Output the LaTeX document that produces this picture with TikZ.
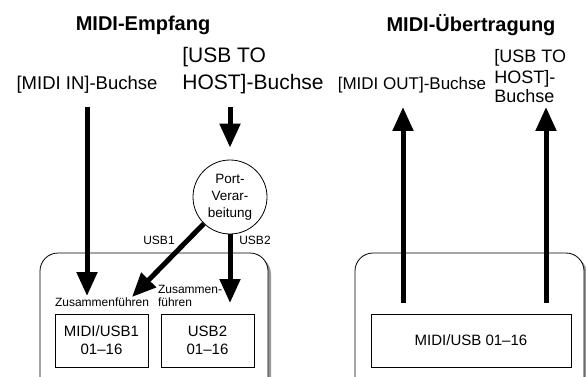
\documentclass[tikz,border=0pt]{standalone}
\usepackage{fontspec}
\setmainfont{Liberation Sans}
\usetikzlibrary{arrows.meta, positioning, shadows}
\tikzset{
  every picture/.style={x=1pt, y=-1pt, line width=0.8pt},
  ttl/.style={font=\bfseries\fontsize{20}{24}\selectfont, inner sep=0pt},
  lbl/.style={font=\fontsize{17}{20}\selectfont, inner sep=0pt, align=left},
  tiny/.style={font=\fontsize{12}{13}\selectfont, inner sep=0pt, align=left},
  chan/.style={draw, fill=white, minimum width=93pt, minimum height=53pt, align=center, font=\fontsize{15}{18}\selectfont},
  frame/.style={draw, fill=white, rounded corners=18pt, drop shadow={shadow xshift=3pt, shadow yshift=-3pt, fill=black!40, opacity=1}},
  arrow/.style={line width=5pt, -{Triangle[length=24pt, width=20pt]}},
}
\begin{document}
\begin{tikzpicture}
  \useasboundingbox (0,0) rectangle (586,377);
  % frames (cut at the bottom)
  \path[frame] (40,253) rectangle (268,395);
  \path[frame] (355,253) rectangle (584,395);
  % titles and jacks
  \node[ttl] (rxt) at (143,25) {MIDI-Empfang};
  \node[ttl] (txt) at (471,25) {MIDI-Übertragung};
  \node[lbl, anchor=base, font=\fontsize{18.5}{20}\selectfont] (midiin) at (87,90) {[MIDI IN]-Buchse};
  \node[lbl, anchor=base west, font=\fontsize{21}{27}\selectfont] (usbin) at (182,90) {[USB TO\\HOST]-Buchse};
  \node[lbl, anchor=base] (midiout) at (412,90) {[MIDI OUT]-Buchse};
  \node[lbl, anchor=base west, font=\fontsize{18}{20}\selectfont] (usbout) at (494,103) {[USB TO\\HOST]-\\Buchse};
  % receive side
  \node[draw, circle, minimum size=74pt, inner sep=0pt, align=center, font=\fontsize{13.5}{17}\selectfont] (port) at (230,197) {Port-\\Verar-\\beitung};
  \node[chan] (mu1) at (101.5,340.5) {MIDI/USB1\\01--16};
  \node[chan] (u2) at (207.5,340.5) {USB2\\01--16};
  \node[tiny, anchor=south west] (zf1) at ([yshift=7pt]mu1.north west) {Zusammenführen};
  \node[tiny, anchor=south west] (zf2) at ([xshift=-3pt, yshift=7pt]u2.north west) {Zusammen-\\führen};
  \node[tiny] (usb1) at (159,240) {USB1};
  \node[tiny] (usb2) at (255,240) {USB2};
  \coordinate (t1) at (132,297);
  \coordinate (t2) at (230,303);
  \coordinate (u1s) at (230,107);
  \draw[arrow] ([yshift=-17pt]midiin.base) -- (87,296);
  \draw[arrow] (u1s) -- ([yshift=12pt]port.north);
  \draw[arrow] (port) -- (t1);
  \draw[arrow] (port) -- (t2);
  % transmit side
  \node[chan, minimum width=200pt] (mout) at (471,340.5) {MIDI/USB 01--16};
  \coordinate (o1) at (403,303);
  \coordinate (o1t) at (403,107);
  \coordinate (o2) at (546,303);
  \coordinate (o2t) at (546,107);
  \draw[arrow] (o1) -- (o1t);
  \draw[arrow] (o2) -- (o2t);
\end{tikzpicture}
\end{document}
